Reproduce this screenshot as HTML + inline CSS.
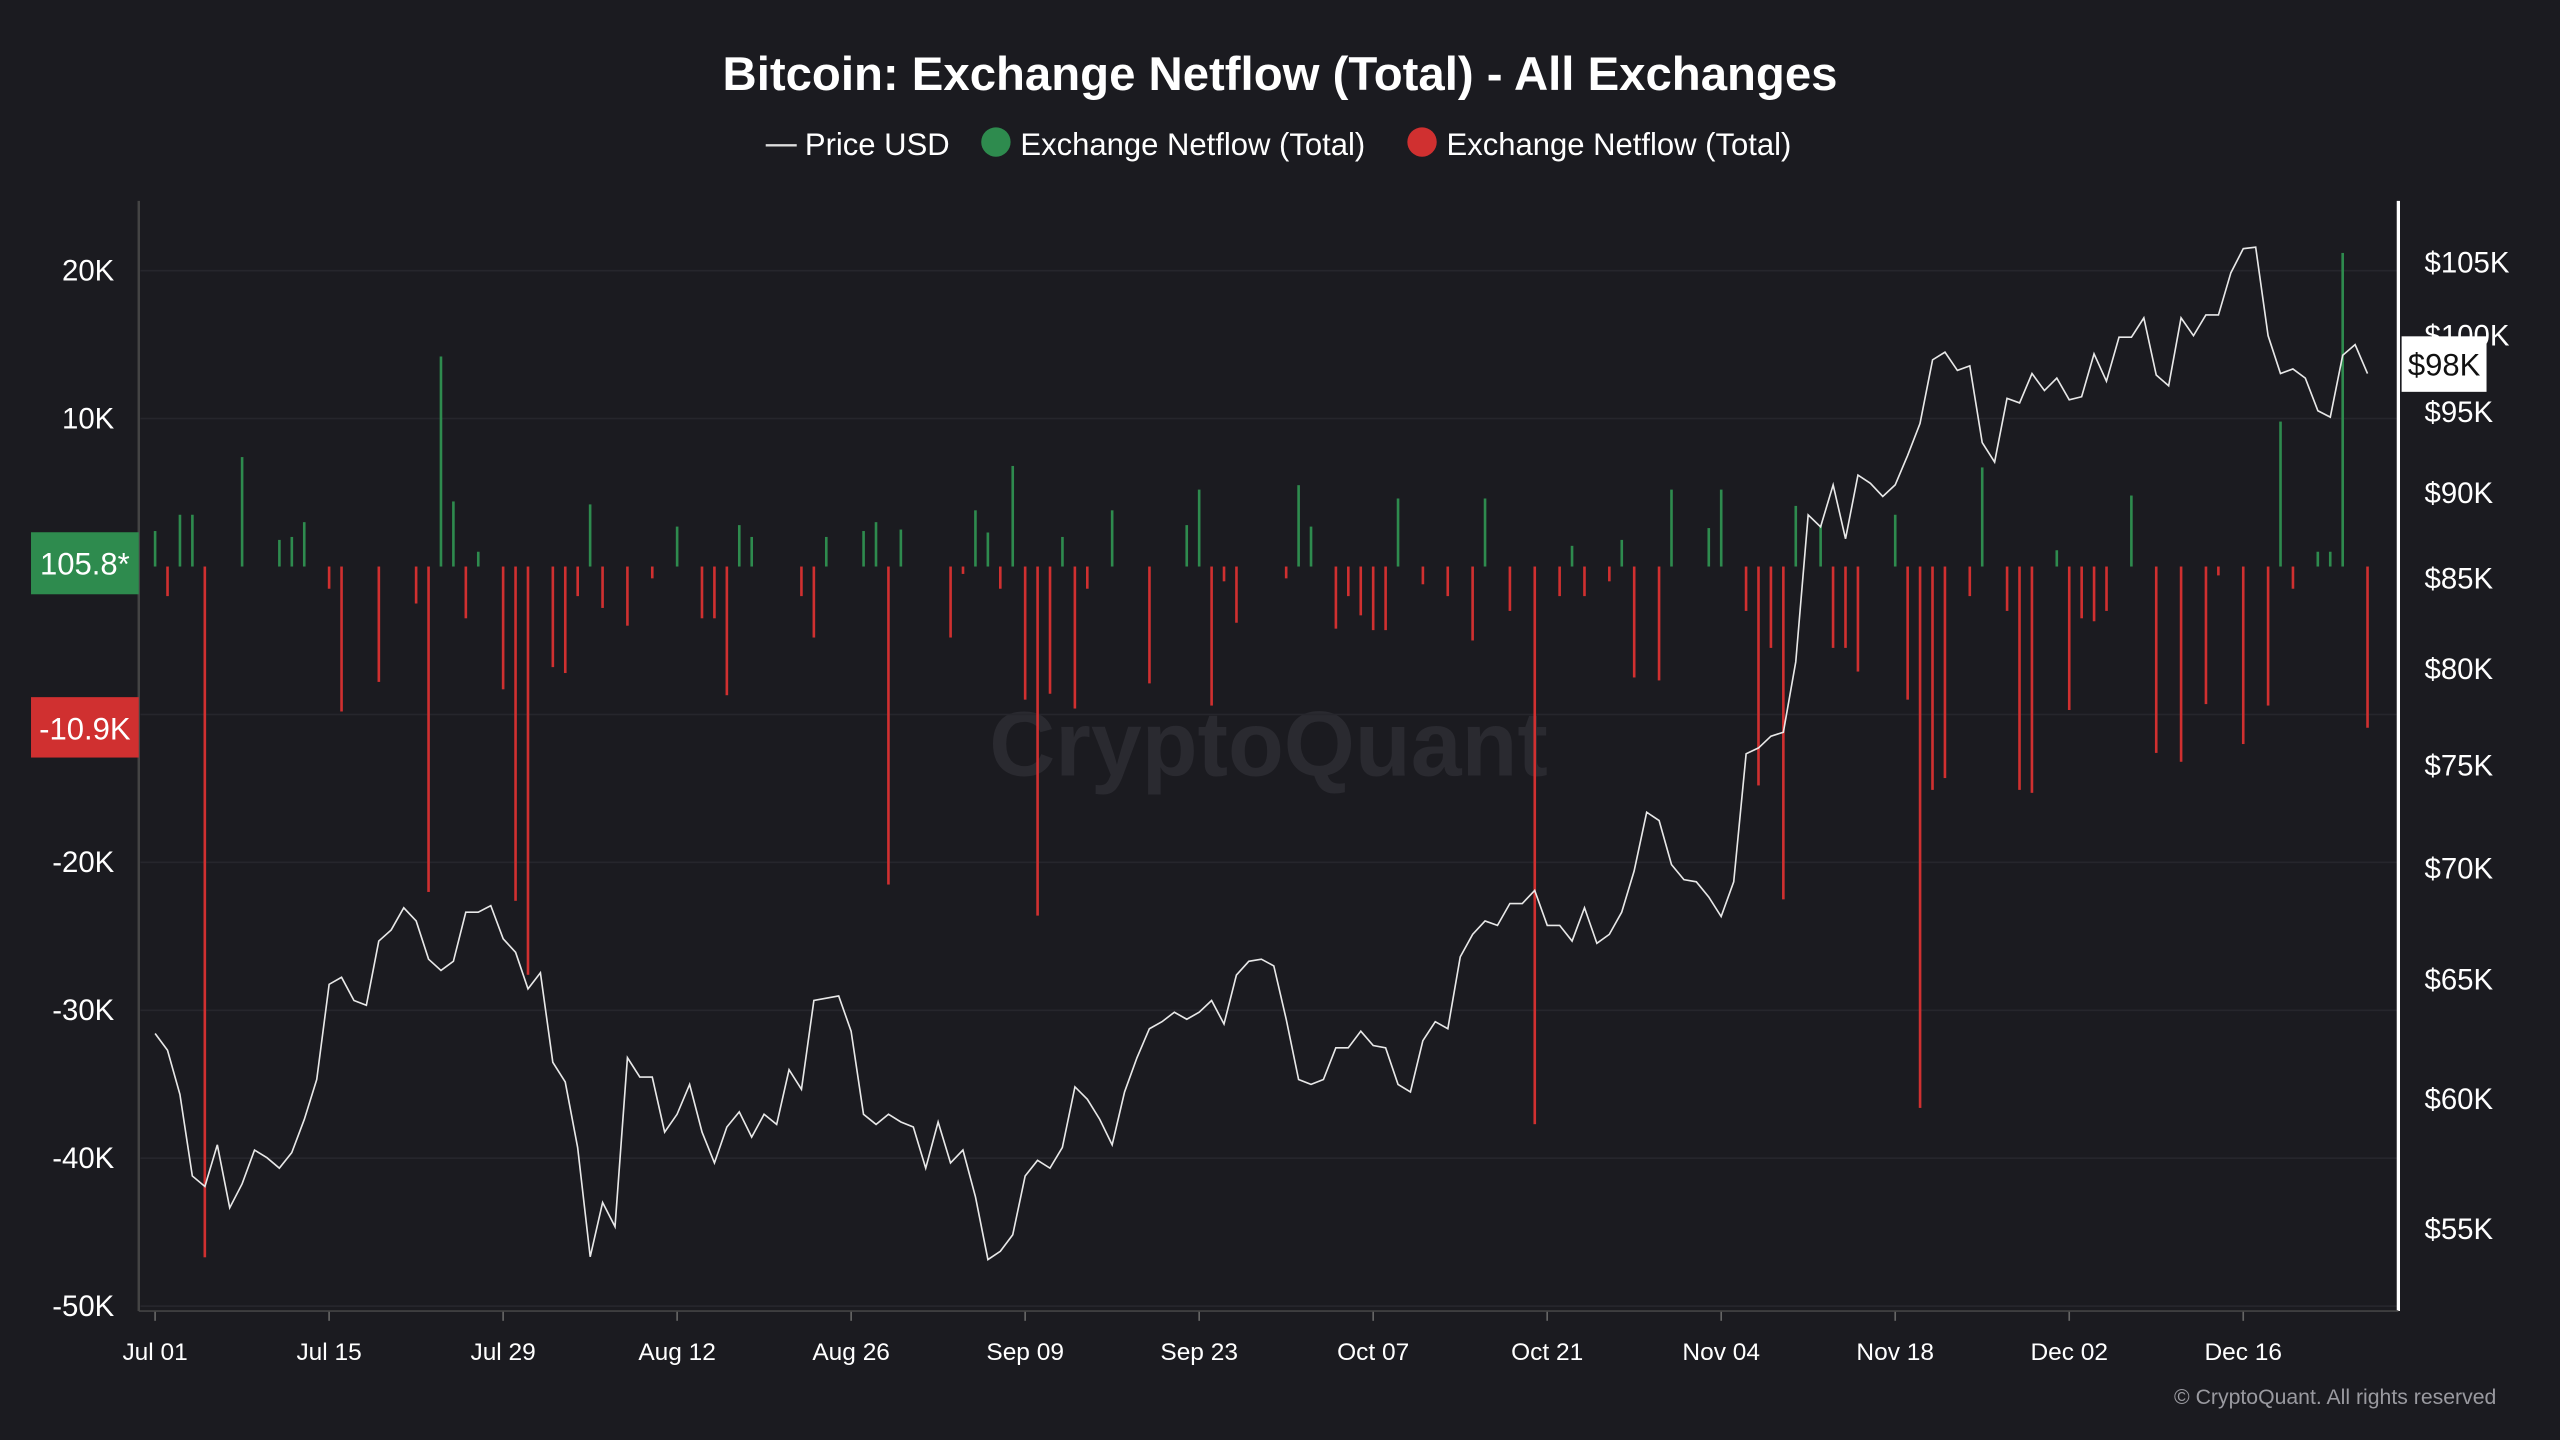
<!DOCTYPE html>
<html><head><meta charset="utf-8"><style>
html,body{margin:0;padding:0;background:#1b1b20;width:2560px;height:1440px;overflow:hidden}
svg{display:block;font-family:"Liberation Sans",sans-serif}
</style></head><body>
<svg id="chart" width="2560" height="1440" viewBox="0 0 1568 882">
<rect width="1568" height="882" fill="#1b1b20"/>
<text x="784" y="55" text-anchor="middle" fill="#fff" font-size="29" font-weight="bold">Bitcoin: Exchange Netflow (Total) - All Exchanges</text>
<g font-size="19" fill="#fff">
<g><line x1="469" y1="89" x2="488" y2="89" stroke="#ddd" stroke-width="1.5"/><text x="493" y="95">Price USD</text></g>
<g><circle cx="610" cy="87" r="9" fill="#2e8b4e"/><text x="625" y="95">Exchange Netflow (Total)</text></g>
<g><circle cx="871" cy="87" r="9" fill="#d03030"/><text x="886" y="95">Exchange Netflow (Total)</text></g>
</g>
<text x="777" y="475" text-anchor="middle" fill="#2a2a30" font-size="56" font-weight="bold">CryptoQuant</text>
<g id="grid"></g><g id="bars"></g><g id="line"></g><g id="axes"></g>
<text x="1529" y="860" text-anchor="end" fill="#9a9aa0" font-size="13">© CryptoQuant. All rights reserved</text>
</svg>
<script>
const dateLabels=["Jul 01","Jul 15","Jul 29","Aug 12","Aug 26","Sep 09","Sep 23","Oct 07","Oct 21","Nov 04","Nov 18","Dec 02","Dec 16"];
const leftTicks=[20000,10000,-10000,-20000,-30000,-40000,-50000];
const leftTickLabels=["20K","10K","-10K","-20K","-30K","-40K","-50K"];
const rightTicks=[105000,100000,95000,90000,85000,80000,75000,70000,65000,60000,55000];
const price=[62.7,62.0,60.2,57.0,56.6,58.2,55.8,56.7,58.0,57.7,57.3,57.9,59.2,60.8,64.8,65.1,64.1,63.9,66.7,67.2,68.2,67.6,65.9,65.4,65.8,68.0,68.0,68.3,66.8,66.2,64.6,
65.3,61.5,60.7,58.1,54.0,56.0,55.1,61.7,60.9,60.9,58.7,59.4,60.6,58.7,57.5,58.9,59.5,58.5,59.4,59.0,61.2,60.4,64.1,64.2,64.3,62.8,59.4,59.0,59.4,59.1,58.9,
57.3,59.1,57.5,58.0,56.2,53.9,54.2,54.8,57.0,57.6,57.3,58.1,60.5,60.0,59.2,58.2,60.3,61.7,62.9,63.2,63.6,63.3,63.6,64.1,63.1,65.2,65.8,65.9,65.6,63.3,
60.8,60.6,60.8,62.1,62.1,62.8,62.2,62.1,60.6,60.3,62.4,63.2,62.9,66.0,67.0,67.6,67.4,68.4,68.4,69.0,67.4,67.4,66.7,68.2,66.6,67.0,68.0,69.9,72.7,72.3,70.2,
69.5,69.4,68.7,67.8,69.4,75.6,75.9,76.5,76.7,80.4,88.7,88.0,90.5,87.3,91.1,90.6,89.8,90.5,92.3,94.3,98.4,98.9,97.7,98.0,93.1,91.9,95.9,95.6,97.5,96.4,
97.2,95.8,96.0,98.8,97.0,99.9,99.9,101.2,97.4,96.7,101.2,100.0,101.4,101.4,104.3,106.0,106.1,100.0,97.5,97.8,97.2,95.1,94.7,98.7,99.4,97.5];
const netflowDays=[0,1,2,3,4,7,10,11,12,14,15,18,21,22,23,24,25,26,28,29,30,32,33,34,35,36,38,40,42,44,45,46,47,48,52,53,54,57,58,59,60,64,65,66,67,68,69,70,71,72,73,74,75,77,80,83,84,85,86,87,91,92,93,95,96,97,98,99,100,102,104,106,107,109,111,113,114,115,117,118,119,121,122,125,126,128,129,130,131,132,134,135,136,137,140,141,142,143,144,146,147,149,150,151,153,154,155,156,157,159,161,163,165,166,168,170,171,172,174,175,176,178];
const netflowVals=[2400,-2000,3500,3500,-46700,7400,1800,2000,3000,-1500,-9800,-7800,-2500,-22000,14200,4400,-3500,1000,-8300,-22600,-27600,-6800,-7200,-2000,4200,-2800,-4000,-800,2700,-3500,-3500,-8700,2800,2000,-2000,-4800,2000,2400,3000,-21500,2500,-4800,-500,3800,2300,-1500,6800,-9000,-23600,-8600,2000,-9600,-1500,3800,-7900,2800,5200,-9400,-1000,-3800,-800,5500,2700,-4200,-2000,-3300,-4300,-4300,4600,-1200,-2000,-5000,4600,-3000,-37700,-2000,1400,-2000,-1000,1800,-7500,-7700,5200,2600,5200,-3000,-14800,-5500,-22500,4100,2800,-5500,-5500,-7100,3500,-9000,-36600,-15100,-14300,-2000,6700,-3000,-15100,-15300,1100,-9700,-3500,-3700,-3000,4800,-12600,-13200,-9300,-600,-12000,-9400,9800,-1500,1000,1000,21200,-10900];
const ns="http://www.w3.org/2000/svg";
function mk(tag,attrs,parent,txt){const e=document.createElementNS(ns,tag);for(const k in attrs)e.setAttribute(k,attrs[k]);if(txt!==undefined)e.textContent=txt;parent.appendChild(e);return e;}
const X=d=>95+d*7.613;
const YL=v=>347-v/10000*90.6;
const YR=p=>753-915.6*Math.log(p/55000);
const grid=document.getElementById('grid'),bars=document.getElementById('bars'),line=document.getElementById('line'),axes=document.getElementById('axes');
// grid + left ticks
leftTicks.forEach((v,i)=>{
 const g=mk('line',{x1:86,x2:1468,y1:YL(v),y2:YL(v),stroke:'#26262c','stroke-width':1},grid);
 
 
 const t=mk('text',{x:70,y:YL(v)+6,'text-anchor':'end',fill:'#fff','font-size':18},axes,leftTickLabels[i]);
 
 
});
rightTicks.forEach(p=>{
 const t=mk('text',{x:1485,y:YR(p)+6,fill:'#fff','font-size':18},axes,'$'+(p/1000)+'K');
 
 
});
dateLabels.forEach((l,i)=>{
 const x=X(i*14);
 const tk=mk('line',{x1:x,x2:x,y1:803,y2:809,stroke:'#666'},axes);
 
 
 const t=mk('text',{x:x,y:833,'text-anchor':'middle',fill:'#fff','font-size':15},axes,l);
 
 
});
// bars
const y0=YL(0);
netflowDays.forEach((d,i)=>{
 const v=netflowVals[i];const y=YL(v);
 const b=mk('rect',{x:X(d)-0.8,y:Math.min(y,y0),width:1.6,height:Math.max(0.8,Math.abs(y-y0)),fill:v>=0?'#2e8b4e':'#d03030'},bars);
 
 
});
// price line
const pts=price.map((p,i)=>X(i).toFixed(1)+','+YR(p*1000).toFixed(1)).join(' ');
const pl=mk('polyline',{points:pts,fill:'none',stroke:'#e8e8e8','stroke-width':1},line);


// axes lines
const la=mk('line',{x1:85,x2:85,y1:123,y2:803,stroke:'#444','stroke-width':1.5},axes);


const ra=mk('line',{x1:1469,x2:1469,y1:123,y2:803,stroke:'#fff','stroke-width':2},axes);


const ba=mk('line',{x1:85,x2:1469,y1:803,y2:803,stroke:'#444','stroke-width':1},axes);


// value badges
const lastV=netflowVals[netflowVals.length-1];
const gb=mk('rect',{x:19,y:326,width:66,height:38,fill:'#2e8b4e'},axes);


const gt=mk('text',{x:52,y:352,'text-anchor':'middle',fill:'#fff','font-size':19},axes,'105.8*');


const rb=mk('rect',{x:19,y:427,width:66,height:37,fill:'#d03030'},axes);


const rt=mk('text',{x:52,y:453,'text-anchor':'middle',fill:'#fff','font-size':19},axes,(lastV/1000).toFixed(1)+'K');


const pb=mk('rect',{x:1471,y:206,width:52,height:34,fill:'#fff'},axes);


const pt=mk('text',{x:1497,y:230,'text-anchor':'middle',fill:'#111','font-size':19},axes,'$98K');


</script>
</body></html>
